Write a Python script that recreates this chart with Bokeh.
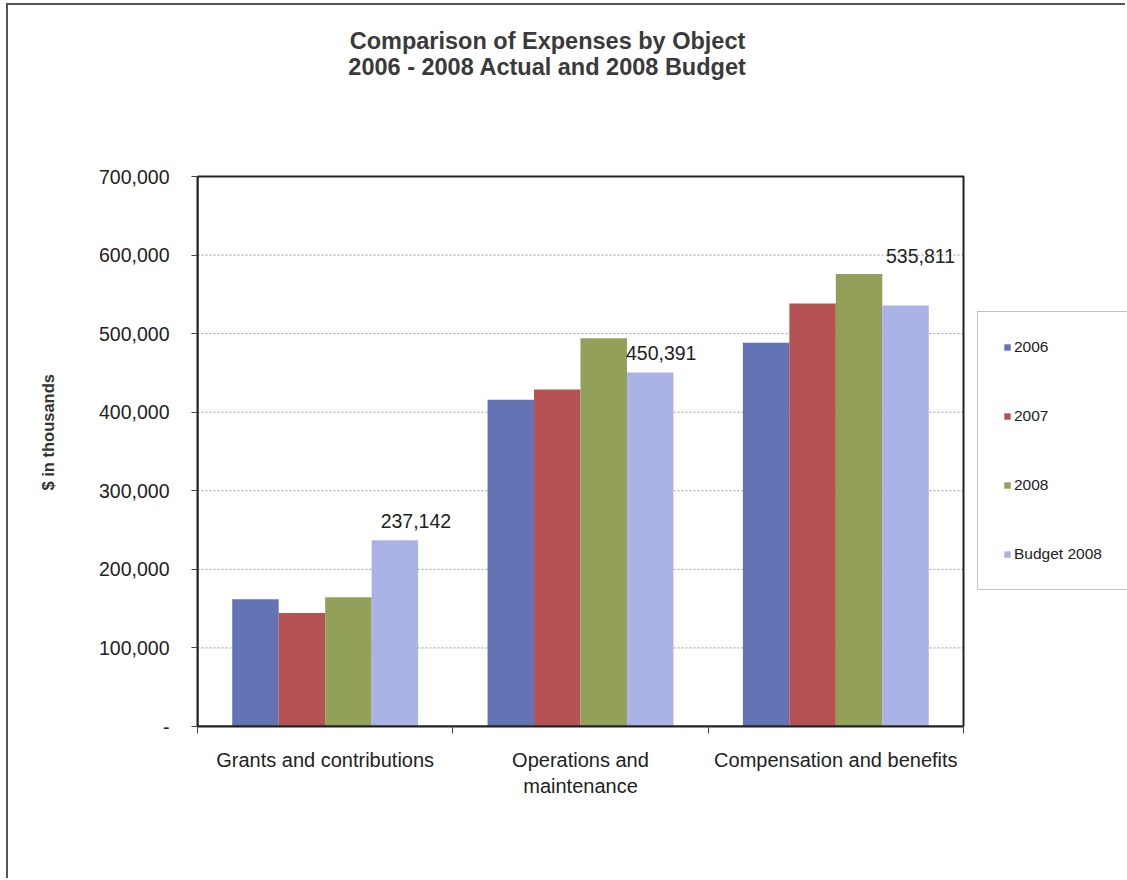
from bokeh.plotting import figure
from bokeh.models import (ColumnDataSource, FixedTicker, NumeralTickFormatter, Legend,
                          LegendItem, Title, Label, BoxAnnotation, Range1d, LinearAxis)
from bokeh.transform import dodge
from bokeh.embed import file_html
from bokeh.resources import INLINE

# Expenses by object, $ in thousands
categories = ["Grants and contributions", "Operations and\nmaintenance", "Compensation and benefits"]
actual_2006 = [162000, 416000, 488500]
actual_2007 = [144500, 429000, 538500]
actual_2008 = [164500, 494000, 576000]
budget_2008 = [237142, 450391, 535811]

series_names = ["2006", "2007", "2008", "Budget 2008"]
colors = ["#6473b4", "#b55254", "#93a05a", "#aab2e6"]
y_ticks = [i * 100000 for i in range(8)]

FONT = "Liberation Sans"
TEXT = "#222222"
Y_MAX = y_ticks[-1]

# canvas geometry (px): chart box is 766 x 550, the drawing frame runs to the
# right and top edges so the legend and heading can sit inside it
W, H = 1119, 875
LEFT, BOTTOM = 189, 154
BOX_W, BOX_H = 766, 550
frame_w, frame_h = W - LEFT, H - BOTTOM
n = len(categories)

pos = [i + 0.5 for i in range(n)]
src = ColumnDataSource(dict(
    x=pos,
    a2006=actual_2006, a2007=actual_2007, a2008=actual_2008, b2008=budget_2008,
    label=[f"{v:,}" for v in budget_2008],
    lx=[21, 11, 15],
    ly=[-19, -20, -50],
))

# page frame drawn as a CSS border; the plot sits 8 px in and 5 px down
p = figure(width=W, height=H, output_backend="svg", toolbar_location=None,
           x_range=Range1d(0, n * frame_w / BOX_W),
           y_range=Range1d(0, Y_MAX * frame_h / BOX_H),
           min_border_left=LEFT, min_border_right=0, min_border_top=0,
           min_border_bottom=BOTTOM,
           margin=(3, 0, 0, 6),
           styles={"border-left": "2px solid #555555", "border-top": "2px solid #555555"})
p.background_fill_color = "white"
p.border_fill_color = "white"
p.outline_line_color = None
p.xgrid.visible = False
p.ygrid.visible = False

# dotted gridlines across the chart box only
grid_y = y_ticks[1:-1]
p.segment(x0=0, x1=n, y0=grid_y, y1=grid_y, line_color="#9a9a9a",
          line_dash="2 2", line_width=1)

bw = 0.182
offsets = [-1.5 * bw, -0.5 * bw, 0.5 * bw, 1.5 * bw]
fields = ["a2006", "a2007", "a2008", "b2008"]
renderers = []
for f, off, c in zip(fields, offsets, colors):
    r = p.vbar(x=dodge("x", off), top=f, width=bw, source=src,
               fill_color=c, line_color=None)
    renderers.append(r)

# value labels on the budget bars
p.text(x=dodge("x", offsets[3]), y="b2008", text="label", source=src,
       x_offset="lx", y_offset="ly", text_align="center", text_baseline="middle",
       text_font={"value": FONT}, text_font_size="19.5px", text_color=TEXT)

# chart box (top and right edges; left and bottom come from the axes)
p.add_layout(BoxAnnotation(left=0, right=n, bottom=0, top=Y_MAX,
                           fill_alpha=0, line_color="#222222", line_alpha=1,
                           line_width=2))

# y axis
p.yaxis.ticker = FixedTicker(ticks=y_ticks)
p.yaxis.bounds = (0, Y_MAX)
p.yaxis.formatter = NumeralTickFormatter(format="0,0")
p.yaxis.major_label_overrides = {0: "-"}
p.yaxis.major_tick_out = 6
p.yaxis.major_tick_in = 0
p.yaxis.minor_tick_out = 0
p.yaxis.minor_tick_in = 0
p.yaxis.major_label_standoff = 22
p.yaxis.major_label_text_font = FONT
p.yaxis.major_label_text_font_size = "19.5px"
p.yaxis.major_label_text_color = TEXT
p.yaxis.axis_line_color = "#222222"
p.yaxis.axis_line_width = 2
p.yaxis.major_tick_line_color = "#444444"

# blank gap between the tick labels and the vertical title: one white tick, no label
gap = LinearAxis(ticker=FixedTicker(ticks=[0]), axis_line_color=None,
                 major_tick_out=22, major_tick_in=0, minor_tick_out=0, minor_tick_in=0,
                 major_tick_line_color="white", minor_tick_line_color=None,
                 major_label_standoff=0, major_label_overrides={0: ""})
p.add_layout(gap, "left")

# x axis: category names centred, tick marks at the group boundaries
p.xaxis.ticker = FixedTicker(ticks=pos, minor_ticks=list(range(n + 1)))
p.xaxis.bounds = (0, n)
p.xaxis.major_label_overrides = {pv: c for pv, c in zip(pos, categories)}
p.xaxis.major_tick_out = 0
p.xaxis.major_tick_in = 0
p.xaxis.minor_tick_out = 7
p.xaxis.minor_tick_in = 0
p.xaxis.minor_tick_line_color = "#444444"
p.xaxis.major_label_standoff = 15
p.xaxis.major_label_text_font = FONT
p.xaxis.major_label_text_font_size = "20px"
p.xaxis.major_label_text_color = TEXT
p.xaxis.axis_line_color = "#222222"
p.xaxis.axis_line_width = 2

# heading, in pixels from the chart box's bottom-left corner
for txt, yy in [("Comparison of Expenses by Object", 686), ("2006 - 2008 Actual and 2008 Budget", 660)]:
    p.add_layout(Label(x=350, y=yy, x_units="screen", y_units="screen", text=txt,
                       text_align="center", text_baseline="middle",
                       text_font=FONT, text_font_style="bold", text_font_size="23.5px",
                       text_color="#3a3a3a"))

# vertical axis title
p.add_layout(Title(text="$ in thousands", align="left", offset=236, standoff=36,
                   text_font=FONT, text_font_style="bold", text_font_size="16.5px",
                   text_color="#333333"), "left")

legend = Legend(items=[LegendItem(label=s, renderers=[r]) for s, r in zip(series_names, renderers)],
                location=(780, 136), padding=25, spacing=49,
                glyph_width=8, glyph_height=8, label_height=20, label_width=105,
                label_standoff=3,
                label_text_font=FONT, label_text_font_size="15.5px", label_text_color=TEXT,
                border_line_color="#888888", border_line_width=1,
                background_fill_color="white", background_fill_alpha=1)
p.add_layout(legend, "center")

open("out.html", "w").write(file_html(p, INLINE))
